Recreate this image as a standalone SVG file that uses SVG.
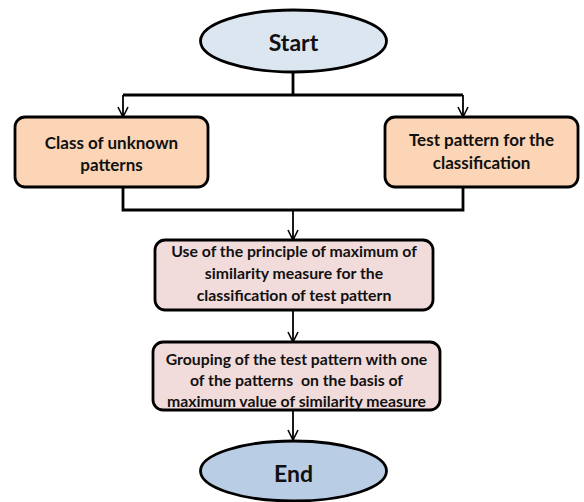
<svg xmlns="http://www.w3.org/2000/svg" width="584" height="502" viewBox="0 0 584 502">
<defs>
<marker id="arr" viewBox="0 0 12 12" refX="11" refY="6" markerWidth="12" markerHeight="12" markerUnits="userSpaceOnUse" orient="auto">
<path d="M1,1 L11,6 L1,11" fill="none" stroke="#000" stroke-width="1.6"/>
</marker>
<style>
.n{stroke:#000;stroke-width:2.8}
.t{font-family:Lato,"Open Sans",sans-serif;font-weight:bold;fill:#111;text-anchor:middle;dominant-baseline:central}
.c{fill:none;stroke:#000;stroke-width:2.8}
.a{fill:none;stroke:#000;stroke-width:1.8;marker-end:url(#arr)}
</style>
</defs>
<rect width="584" height="502" fill="#fff"/>
<g id="connectors">
<path class="c" d="M293,72 V95 M123,95 H463"/>
<path class="a" d="M123,95 V117"/>
<path class="a" d="M463,95 V117"/>
<path class="c" d="M123,187 V210 H463 V187"/>
<path class="a" d="M293,210 V240"/>
<path class="a" d="M293,310 V342"/>
<path class="a" d="M293,410 V440"/>
</g>
<g id="start">
<ellipse class="n" cx="293.5" cy="41" rx="93" ry="31" fill="#dce6f1"/>
<text class="t" x="293.5" y="42" font-size="23">Start</text>
</g>
<g id="class">
<rect class="n" x="15" y="117" width="193" height="70" rx="10" fill="#fbd5b5"/>
<text class="t" x="111.5" y="142" font-size="17">Class of unknown</text>
<text class="t" x="111.5" y="164" font-size="17">patterns</text>
</g>
<g id="test">
<rect class="n" x="385" y="117" width="193" height="70" rx="10" fill="#fbd5b5"/>
<text class="t" x="481.5" y="139" font-size="17">Test pattern for the</text>
<text class="t" x="481.5" y="162" font-size="17">classification</text>
</g>
<g id="principle">
<rect class="n" x="155" y="240" width="278" height="70" rx="10" fill="#f2dcdb"/>
<text class="t" x="294" y="250" font-size="15.8">Use of the principle of maximum of</text>
<text class="t" x="294" y="272" font-size="15.8">similarity measure for the</text>
<text class="t" x="294" y="294" font-size="15.8">classification of test pattern</text>
</g>
<g id="grouping">
<rect class="n" x="153" y="342" width="287" height="68" rx="10" fill="#f2dcdb"/>
<text class="t" x="296.5" y="358" font-size="15.8">Grouping of the test pattern with one</text>
<text class="t" x="296.5" y="379" font-size="15.8" xml:space="preserve">of the patterns  on the basis of</text>
<text class="t" x="296.5" y="400" font-size="15.8">maximum value of similarity measure</text>
</g>
<g id="end">
<ellipse class="n" cx="293.5" cy="471" rx="93" ry="30" fill="#b9cde5"/>
<text class="t" x="293.5" y="473" font-size="23">End</text>
</g>
</svg>
